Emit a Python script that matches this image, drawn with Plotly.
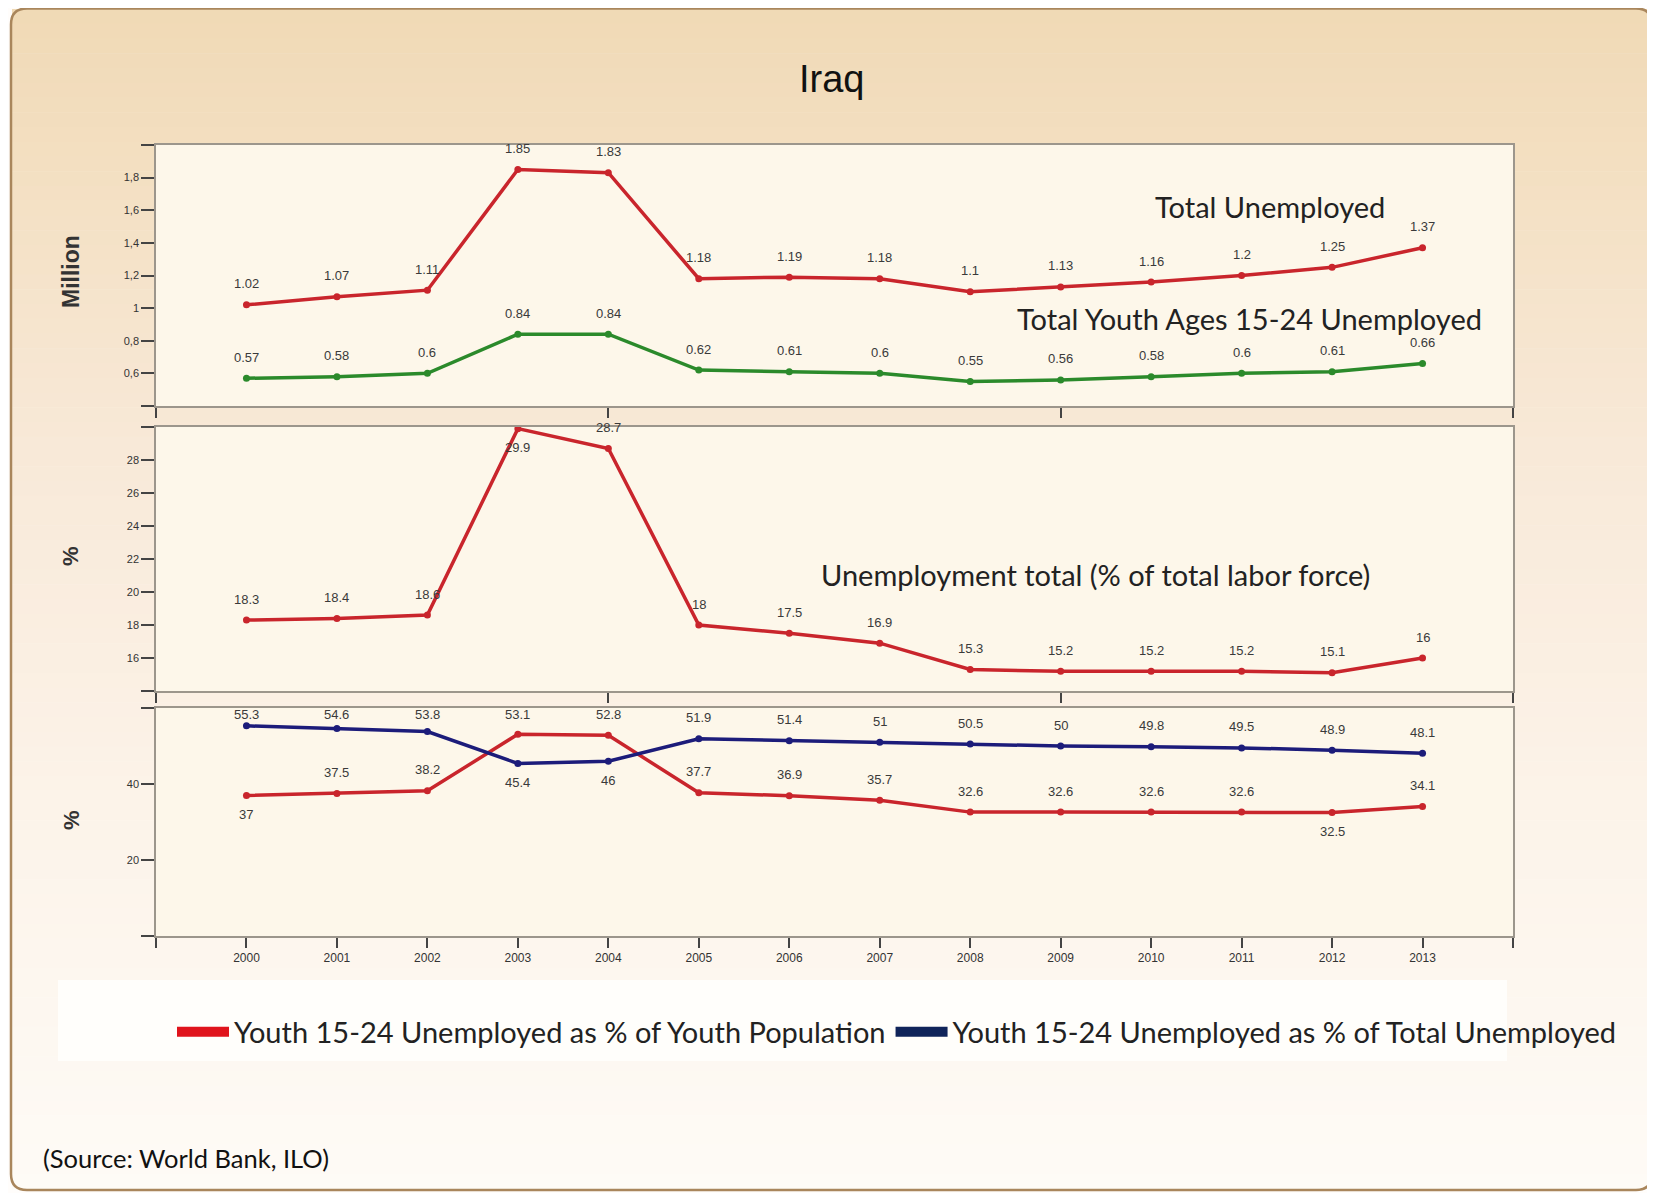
import plotly.graph_objects as go

# page body margin of the html page (8 px) is compensated
OFF = 8
W, H = 1655 - OFF, 1193 - OFF

# ---------------- data ----------------
years = list(range(2000, 2014))
total_unemployed = [1.02, 1.07, 1.11, 1.85, 1.83, 1.18, 1.19, 1.18, 1.1, 1.13, 1.16, 1.2, 1.25, 1.37]
youth_unemployed = [0.57, 0.58, 0.6, 0.84, 0.84, 0.62, 0.61, 0.6, 0.55, 0.56, 0.58, 0.6, 0.61, 0.66]
unemp_rate = [18.3, 18.4, 18.6, 29.9, 28.7, 18, 17.5, 16.9, 15.3, 15.2, 15.2, 15.2, 15.1, 16]
youth_pct_youth_pop = [37, 37.5, 38.2, 53.1, 52.8, 37.7, 36.9, 35.7, 32.6, 32.6, 32.6, 32.6, 32.5, 34.1]
youth_pct_total_unemp = [55.3, 54.6, 53.8, 45.4, 46, 51.9, 51.4, 51, 50.5, 50, 49.8, 49.5, 48.9, 48.1]

top_tickvals = [0.4, 0.6, 0.8, 1.0, 1.2, 1.4, 1.6, 1.8, 2.0]
top_ticktext = ["", "0,6", "0,8", "1", "1,2", "1,4", "1,6", "1,8", ""]
mid_tickvals = [14, 16, 18, 20, 22, 24, 26, 28, 30]
mid_ticktext = ["", "16", "18", "20", "22", "24", "26", "28", ""]
bot_tickvals = [0, 20, 40, 60]
bot_ticktext = ["", "20", "40", ""]
year_tickvals = [1999] + years + [2014]
year_ticktext = [""] + [str(y) for y in years] + [""]
sparse_year_ticks = [1999, 2004, 2009, 2014]

TOP_RANGE = [0.4, 2.0]
MID_RANGE = [14, 30]
BOT_RANGE = [0, 60]

# label placement: indices of points whose value label sits below the point
below_total = []
below_youth = []
below_rate = [3]
below_youth_pop = [0, 12]
below_total_unemp = [3, 4]

# ---------------- style ----------------
RED = "#c9252c"
GREEN = "#2b8a2b"
BLUE = "#1c1c7a"
NARROW = "Liberation Sans Narrow, Arial Narrow, Liberation Sans, sans-serif"
CAL = "Lato, Open Sans, sans-serif"


def px(x):
    return (x - OFF) / W


def py(y):
    return 1 - (y - OFF) / H


PANEL_TOP = {"y": 145, "y2": 427, "y3": 708}
PANEL_BOT = {"y": 406, "y2": 691, "y3": 936}
RANGES = {"y": TOP_RANGE, "y2": MID_RANGE, "y3": BOT_RANGE}

X_DOM = [px(156), px(1513)]
Y1_DOM = [py(PANEL_BOT["y"]), py(PANEL_TOP["y"])]
Y2_DOM = [py(PANEL_BOT["y2"]), py(PANEL_TOP["y2"])]
Y3_DOM = [py(PANEL_BOT["y3"]), py(PANEL_TOP["y3"])]

fig = go.Figure()


def line_trace(vals, color, xa, ya):
    return go.Scatter(
        x=years, y=vals, xaxis=xa, yaxis=ya, mode="lines+markers",
        line=dict(color=color, width=3.5), marker=dict(color=color, size=7),
        showlegend=False, cliponaxis=False, hoverinfo="x+y",
    )


fig.add_trace(line_trace(total_unemployed, RED, "x", "y"))
fig.add_trace(line_trace(youth_unemployed, GREEN, "x", "y"))
fig.add_trace(line_trace(unemp_rate, RED, "x2", "y2"))
fig.add_trace(line_trace(youth_pct_youth_pop, RED, "x3", "y3"))
fig.add_trace(line_trace(youth_pct_total_unemp, BLUE, "x3", "y3"))

# legend-only traces (thick swatches)
fig.add_trace(go.Scatter(x=[None], y=[None], xaxis="x3", yaxis="y3", mode="lines",
                         line=dict(color="#e0141c", width=10),
                         name="Youth 15-24 Unemployed as % of Youth Population"))
fig.add_trace(go.Scatter(x=[None], y=[None], xaxis="x3", yaxis="y3", mode="lines",
                         line=dict(color="#10245a", width=10),
                         name="Youth 15-24 Unemployed as % of Total Unemployed"))

annotations = []


def add_labels(vals, xa, ya, below, clamp_top=False):
    lo, hi = RANGES[ya]
    for i, (x, v) in enumerate(zip(years, vals)):
        if i in below:
            shift = -19
        else:
            shift = 21
            if clamp_top:
                # keep the label inside the panel (just under its top edge)
                pt_px = PANEL_BOT[ya] - (v - lo) / (hi - lo) * (PANEL_BOT[ya] - PANEL_TOP[ya])
                shift = min(21, pt_px - (PANEL_TOP[ya] + 6))
        annotations.append(dict(
            x=x, y=v, xref=xa, yref=ya, text=f"{v:g}", showarrow=False,
            xanchor="center", yanchor="middle",
            yshift=shift, font=dict(family=NARROW, size=13, color="#3a3a3a"),
        ))


add_labels(total_unemployed, "x", "y", below_total)
add_labels(youth_unemployed, "x", "y", below_youth)
add_labels(unemp_rate, "x2", "y2", below_rate)
add_labels(youth_pct_youth_pop, "x3", "y3", below_youth_pop, clamp_top=True)
add_labels(youth_pct_total_unemp, "x3", "y3", below_total_unemp, clamp_top=True)


def paper_text(x, y, text, size, family=CAL, color="#222", xanchor="center", angle=0):
    return dict(x=px(x), y=py(y), xref="paper", yref="paper", text=text, showarrow=False,
                xanchor=xanchor, yanchor="middle", textangle=angle,
                font=dict(family=family, size=size, color=color))


annotations += [
    paper_text(831, 79, "Iraq", 38, family=NARROW, color="#111"),
    paper_text(1270, 207, "Total Unemployed", 29),
    paper_text(1249, 318, "Total Youth Ages 15-24 Unemployed", 29),
    paper_text(1095, 574, "Unemployment total (% of total labor force)", 29),
    paper_text(71, 272, "<b>Million</b>", 23, family="Liberation Sans", color="#333", angle=-90),
    paper_text(71, 556, "<b>%</b>", 22, family="Liberation Sans", color="#333", angle=-90),
    paper_text(71, 820, "<b>%</b>", 22, family="Liberation Sans", color="#333", angle=-90),
    paper_text(41, 1158, "(Source: World Bank, ILO)", 25.5, color="#111", xanchor="left"),
]

# ---------------- background shapes ----------------
shapes = []
stops = [(0, (240, 217, 181)), (160, (243, 223, 193)), (450, (248, 233, 216)),
         (800, (252, 243, 233)), (1193, (254, 251, 246))]


def col_at(yy):
    for (y0, c0), (y1, c1) in zip(stops[:-1], stops[1:]):
        if y0 <= yy <= y1:
            t = (yy - y0) / (y1 - y0)
            return "rgb(%d,%d,%d)" % tuple(round(a + (b - a) * t) for a, b in zip(c0, c1))
    return "rgb(%d,%d,%d)" % stops[-1][1]


N = 80
top, bot = 9, 1189
for i in range(N):
    y0 = top + (bot - top) * i / N
    y1 = top + (bot - top) * (i + 1) / N
    shapes.append(dict(type="rect", xref="paper", yref="paper", x0=px(12), x1=px(1651),
                       y0=py(y1 + 0.6), y1=py(y0), fillcolor=col_at((y0 + y1) / 2),
                       line=dict(width=0), layer="below"))

# white band behind legend
shapes.append(dict(type="rect", xref="paper", yref="paper", x0=px(58), x1=px(1507),
                   y0=py(1061), y1=py(980), fillcolor="#fffefb", line=dict(width=0), layer="below"))

# plot area backgrounds
for xa, ya in [("x", "y"), ("x2", "y2"), ("x3", "y3")]:
    shapes.append(dict(type="rect", xref=xa + " domain", yref=ya + " domain", x0=0, x1=1, y0=0, y1=1,
                       fillcolor="#fdf7ea", line=dict(width=0), layer="below"))

# rounded border
bx0, bx1, by0, by1, r = 11, 1652, 8.5, 1190, 16
path = (f"M {px(bx0 + r)},{py(by0)} L {px(bx1 - r)},{py(by0)} Q {px(bx1)},{py(by0)} {px(bx1)},{py(by0 + r)} "
        f"L {px(bx1)},{py(by1 - r)} Q {px(bx1)},{py(by1)} {px(bx1 - r)},{py(by1)} "
        f"L {px(bx0 + r)},{py(by1)} Q {px(bx0)},{py(by1)} {px(bx0)},{py(by1 - r)} "
        f"L {px(bx0)},{py(by0 + r)} Q {px(bx0)},{py(by0)} {px(bx0 + r)},{py(by0)} Z")
shapes.append(dict(type="path", xref="paper", yref="paper", path=path,
                   line=dict(color="#a9865c", width=2.5), fillcolor="rgba(0,0,0,0)", layer="above"))

# ---------------- axes ----------------
AX_LINE = "#9c968c"
common_x = dict(range=[1999, 2014], showgrid=False, zeroline=False, showline=True, mirror=True,
                linecolor=AX_LINE, linewidth=1.5, ticks="outside", ticklen=10, tickwidth=1.5,
                tickcolor="#444", domain=X_DOM, fixedrange=True, automargin=False)
common_y = dict(showgrid=False, zeroline=False, showline=True, mirror=True, linecolor=AX_LINE,
                linewidth=1.5, ticks="outside", ticklen=13, tickwidth=1.5, tickcolor="#444",
                tickfont=dict(family=NARROW, size=11, color="#333"), fixedrange=True,
                automargin=False)

fig.update_layout(
    width=W, height=H, margin=dict(l=0, r=0, t=0, b=0, autoexpand=False),
    paper_bgcolor="#fffdfb", plot_bgcolor="rgba(0,0,0,0)",
    xaxis=dict(**common_x, anchor="y", tickvals=sparse_year_ticks, showticklabels=False),
    xaxis2=dict(**common_x, anchor="y2", tickvals=sparse_year_ticks, showticklabels=False),
    xaxis3=dict(**common_x, anchor="y3", tickvals=year_tickvals, ticktext=year_ticktext,
                tickfont=dict(family=NARROW, size=12, color="#333")),
    yaxis=dict(**common_y, anchor="x", domain=Y1_DOM, range=TOP_RANGE,
               tickvals=top_tickvals, ticktext=top_ticktext),
    yaxis2=dict(**common_y, anchor="x2", domain=Y2_DOM, range=MID_RANGE,
                tickvals=mid_tickvals, ticktext=mid_ticktext),
    yaxis3=dict(**common_y, anchor="x3", domain=Y3_DOM, range=BOT_RANGE,
                tickvals=bot_tickvals, ticktext=bot_ticktext),
    legend=dict(orientation="h", x=px(172), y=py(1032), xanchor="left", yanchor="middle",
                font=dict(family=CAL, size=29, color="#222"), bgcolor="rgba(0,0,0,0)",
                itemwidth=52),
    annotations=annotations,
    shapes=shapes,
)

fig.write_html("out.html")
